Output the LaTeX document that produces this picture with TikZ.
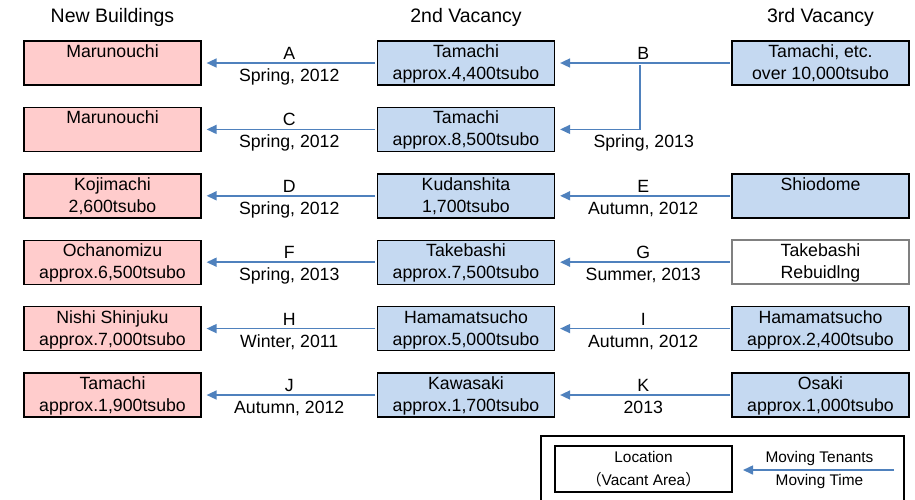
\documentclass[tikz,border=0pt]{standalone}
\usepackage{fontspec}
\setmainfont{Liberation Sans}
\newfontfamily\cjk{Noto Sans CJK JP}
\usetikzlibrary{positioning,arrows.meta,calc}

\definecolor{newpink}{RGB}{255,204,204}
\definecolor{vacblue}{RGB}{197,217,241}
\definecolor{movearrow}{RGB}{79,129,189}
\definecolor{rebuildgray}{RGB}{128,128,128}

\newcommand{\tstrut}{\rule[-2.8pt]{0pt}{11pt}}
\newcommand{\lstrut}{\rule[-3.45pt]{0pt}{11.5pt}}
\newcommand{\two}[2]{\tstrut #1\\\tstrut #2}

\begin{document}
\begin{tikzpicture}[x=0.5pt, y=-0.5pt,
  every node/.style={font=\fontsize{8.85}{11}\selectfont, align=center},
  place/.style={draw, line width=0.7pt, minimum width=88.5pt, minimum height=22pt, inner sep=0pt, outer sep=0pt},
  newbld/.style={place, fill=newpink},
  vacant/.style={place, fill=vacblue},
  head/.style={font=\fontsize{9.75}{12}\selectfont, anchor=base},
  move/.style={draw=movearrow, line width=0.8pt, -{Triangle[length=5pt,width=4.5pt]}, shorten >=2.8pt, shorten <=1.2pt}]
\useasboundingbox (0,0) rectangle (915,499);

% column heads
\node (hd1) [head] at (112.5,22.5) {New Buildings};
\node (hd2) [head] at (466,22.5) {2nd Vacancy};
\node (hd3) [head] at (820.5,22.5) {3rd Vacancy};

% new buildings
\node (nb1) [newbld] at (112.5,63) {\two{Marunouchi}{\mbox{}}};
\node (nb2) [newbld, below=11.2pt of nb1] {\two{Marunouchi}{\mbox{}}};
\node (nb3) [newbld, below=11.2pt of nb2] {\two{Kojimachi}{2,600tsubo}};
\node (nb4) [newbld, below=11.2pt of nb3] {\two{Ochanomizu}{approx.6,500tsubo}};
\node (nb5) [newbld, below=11.2pt of nb4] {\two{Nishi Shinjuku}{approx.7,000tsubo}};
\node (nb6) [newbld, below=11.2pt of nb5] {\two{Tamachi}{approx.1,900tsubo}};

% 2nd vacancy
\node (vc1) [vacant, right=88.25pt of nb1] {\two{Tamachi}{approx.4,400tsubo}};
\node (vc2) [vacant, right=88.25pt of nb2] {\two{Tamachi}{approx.8,500tsubo}};
\node (vc3) [vacant, right=88.25pt of nb3] {\two{Kudanshita}{1,700tsubo}};
\node (vc4) [vacant, right=88.25pt of nb4] {\two{Takebashi}{approx.7,500tsubo}};
\node (vc5) [vacant, right=88.25pt of nb5] {\two{Hamamatsucho}{approx.5,000tsubo}};
\node (vc6) [vacant, right=88.25pt of nb6] {\two{Kawasaki}{approx.1,700tsubo}};

% 3rd vacancy
\node (tc1) [vacant, right=88.75pt of vc1] {\two{Tamachi, etc.}{over 10,000tsubo}};
\node (tc3) [vacant, right=88.75pt of vc3] {\two{Shiodome}{\mbox{}}};
\node (tc4) [place, draw=rebuildgray, line width=0.9pt, fill=white, right=88.75pt of vc4] {\two{Takebashi}{Rebuidlng}};
\node (tc5) [vacant, right=88.75pt of vc5] {\two{Hamamatsucho}{approx.2,400tsubo}};
\node (tc6) [vacant, right=88.75pt of vc6] {\two{Osaki}{approx.1,000tsubo}};

% moves to new buildings
\draw[move] (vc1) -- node[yshift=-1pt] (lbA) {\two{A}{Spring, 2012}} (nb1);
\draw[move] (vc2) -- node[yshift=-1pt] (lbC) {\two{C}{Spring, 2012}} (nb2);
\draw[move] (vc3) -- node[yshift=-1pt] (lbD) {\two{D}{Spring, 2012}} (nb3);
\draw[move] (vc4) -- node[yshift=-1pt] (lbF) {\two{F}{Spring, 2013}} (nb4);
\draw[move] (vc5) -- node[yshift=-1pt] (lbH) {\two{H}{Winter, 2011}} (nb5);
\draw[move] (vc6) -- node[yshift=-1pt] (lbJ) {\two{J}{Autumn, 2012}} (nb6);

% moves to 2nd vacancy
\draw[move] (tc1) -- node[yshift=-1pt] (lbB) {\two{B}{\mbox{}}} (vc1);
\coordinate (bj) at ($(vc1.east)!0.48!(tc1.west)$);
\draw[move] (bj) |- (vc2);
\node (lbB2) [yshift=-1pt] at ($(bj |- vc2)+(4,0)$) {\two{\mbox{}}{Spring, 2013}};
\draw[move] (tc3) -- node[yshift=-1pt] (lbE) {\two{E}{Autumn, 2012}} (vc3);
\draw[move] (tc4) -- node[yshift=-1pt] (lbG) {\two{G}{Summer, 2013}} (vc4);
\draw[move] (tc5) -- node[yshift=-1pt] (lbI) {\two{I}{Autumn, 2012}} (vc5);
\draw[move] (tc6) -- node[yshift=-1pt] (lbK) {\two{K}{2013}} (vc6);

% legend
\draw[line width=0.6pt] (541,436) rectangle (904,512);
\node (lgbox) [place, fill=white, font=\fontsize{7.7}{11.5}\selectfont] at (643.5,469)
  {\lstrut Location\\\lstrut{\cjk （}Vacant Area{\cjk ）}};
\coordinate (lga) at (894,470);
\coordinate (lgb) at (743,470);
\draw[move, shorten >=0pt, shorten <=0pt] (lga) -- (lgb);
\node (lgtxt) [font=\fontsize{7.7}{11.5}\selectfont] at (819.5,469)
  {\lstrut Moving Tenants\\\lstrut Moving Time};
\end{tikzpicture}
\end{document}
